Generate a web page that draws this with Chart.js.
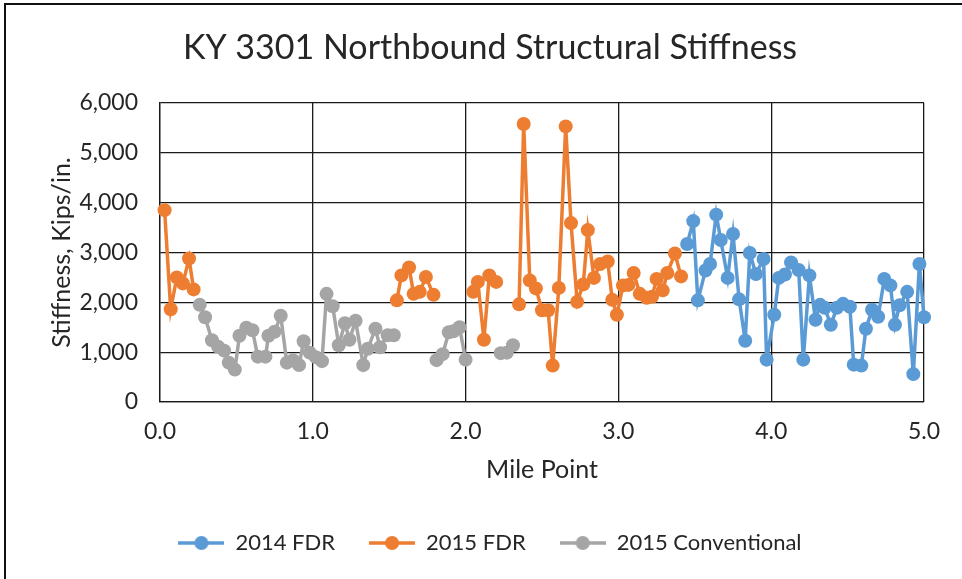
<!DOCTYPE html>
<html>
<head>
<meta charset="utf-8">
<script src="https://cdn.jsdelivr.net/npm/chart.js@4.4.1/dist/chart.umd.min.js"></script>
<style>
  html, body { margin: 0; padding: 0; background: #fff; }
  #wrap { position: relative; width: 962px; height: 579px; overflow: hidden; }
  #frame { position: absolute; left: 4px; top: 3px; width: 2000px; height: 2000px;
           border-top: 2px solid #111; border-left: 2px solid #111; pointer-events: none; }
  canvas { position: absolute; left: 0; top: 0; }
</style>
</head>
<body>
<div id="wrap">
  <canvas id="c" width="962" height="579"></canvas>
  <div id="frame"></div>
</div>
<script>
// ---- Data (mile point, stiffness in kips/in.; null = break in the line) ----
const seriesNames = ['2014 FDR', '2015 FDR', '2015 Conventional'];

const fdr2014Miles = [3.45, 3.49, 3.52, 3.57, 3.60, 3.64, 3.67, 3.715, 3.75, 3.79, 3.83, 3.86, 3.90, 3.95, 3.97,
  4.02, 4.05, 4.09, 4.13, 4.18, 4.21, 4.25, 4.29, 4.32, 4.35, 4.39, 4.43, 4.47, 4.515, 4.54, 4.59, 4.62, 4.66,
  4.70, 4.74, 4.78, 4.81, 4.84, 4.89, 4.93, 4.97, 5.0];
const fdr2014Stiff = [3170, 3630, 2040, 2640, 2770, 3760, 3250, 2490, 3370, 2060, 1230, 2990, 2570, 2870, 850,
  1750, 2490, 2560, 2800, 2650, 850, 2540, 1650, 1950, 1890, 1550, 1890, 1970, 1910, 750, 730, 1470, 1850,
  1710, 2470, 2340, 1550, 1940, 2210, 560, 2770, 1700];

const fdr2015Miles = [0.03, 0.07, 0.11, 0.15, 0.19, 0.22, null,
  1.55, 1.58, 1.63, 1.66, 1.70, 1.74, 1.79, null,
  2.05, 2.08, 2.12, 2.155, 2.20, null,
  2.35, 2.38, 2.42, 2.46, 2.50, 2.54, 2.57, 2.61, 2.655, 2.69, 2.73, 2.77, 2.80, 2.84, 2.88, 2.93, 2.96, 2.99,
  3.03, 3.065, 3.10, 3.14, 3.185, 3.22, 3.25, 3.29, 3.32, 3.37, 3.41];
const fdr2015Stiff = [3850, 1860, 2500, 2380, 2880, 2260, null,
  2040, 2540, 2700, 2170, 2210, 2510, 2150, null,
  2210, 2410, 1250, 2540, 2410, null,
  1960, 5580, 2440, 2280, 1840, 1840, 730, 2290, 5530, 3590, 2010, 2360, 3450, 2490, 2770, 2820, 2050, 1750,
  2340, 2350, 2590, 2170, 2090, 2110, 2470, 2240, 2590, 2980, 2520];

const conv2015Miles = [0.26, 0.295, 0.34, 0.38, 0.42, 0.45, 0.49, 0.52, 0.565, 0.605, 0.64, 0.69, 0.71, 0.75,
  0.79, 0.83, 0.87, 0.91, 0.94, 0.98, 1.02, 1.06, 1.09, 1.13, 1.17, 1.21, 1.24, 1.28, 1.33, 1.36, 1.41, 1.44,
  1.49, 1.53, null,
  1.81, 1.85, 1.89, 1.92, 1.96, 2.00, null,
  2.23, 2.27, 2.31];
const conv2015Stiff = [1950, 1700, 1240, 1110, 1030, 790, 650, 1330, 1490, 1440, 910, 910, 1330, 1410,
  1730, 790, 840, 740, 1220, 990, 900, 820, 2170, 1920, 1140, 1580, 1250, 1630, 740, 1070, 1470, 1100,
  1340, 1340, null,
  840, 960, 1400, 1420, 1500, 850, null,
  980, 990, 1140];

const xTicks = [0, 1, 2, 3, 4, 5];
const yTicks = [0, 1000, 2000, 3000, 4000, 5000, 6000];

// ---- Styling ----
const colors = ['#5B9BD5', '#ED7D31', '#A5A5A5'];
const FONT = 'Lato, "Open Sans", sans-serif';
const TXT = '#262626';

function pts(xs, ys) { return xs.map((x, i) => ({ x: x, y: ys[i] })); }

function legendIcon(color) {
  const c = document.createElement('canvas');
  c.width = 46; c.height = 16;
  const g = c.getContext('2d');
  g.strokeStyle = color; g.lineWidth = 3.5;
  g.beginPath(); g.moveTo(0, 8); g.lineTo(46, 8); g.stroke();
  g.fillStyle = color;
  g.beginPath(); g.arc(23, 8, 7, 0, Math.PI * 2); g.fill();
  return c;
}
const icons = colors.map(legendIcon);

const allData = [pts(fdr2014Miles, fdr2014Stiff), pts(fdr2015Miles, fdr2015Stiff), pts(conv2015Miles, conv2015Stiff)];

const datasets = seriesNames.map((name, i) => ({
  label: name,
  data: allData[i],
  borderColor: colors[i],
  backgroundColor: colors[i],
  borderWidth: 3.5,
  pointRadius: 7,
  pointHoverRadius: 7,
  pointBorderWidth: 0,
  pointBackgroundColor: colors[i],
  spanGaps: false,
  tension: 0,
  clip: false
}));

const LEG_FONT = 22, LEG_PAD = 34, PAD_BOTTOM = 15;
const legendH = LEG_FONT + LEG_PAD + 10;

new Chart(document.getElementById('c'), {
  type: 'line',
  data: { datasets: datasets },
  options: {
    responsive: false,
    animation: false,
    devicePixelRatio: 1,
    layout: { padding: { left: 56, right: 38, top: 4, bottom: PAD_BOTTOM } },
    plugins: {
      title: {
        display: true,
        text: 'KY 3301 Northbound Structural Stiffness',
        color: TXT,
        font: { family: FONT, size: 34, weight: 'normal' },
        padding: { top: 23.6, bottom: 34.6 }
      },
      legend: {
        position: 'bottom',
        labels: {
          color: TXT,
          font: { family: FONT, size: LEG_FONT },
          usePointStyle: true,
          pointStyleWidth: 46,
          padding: LEG_PAD,
          generateLabels: (chart) => seriesNames.map((n, i) => ({
            text: n, pointStyle: icons[i], fillStyle: colors[i], strokeStyle: colors[i],
            lineWidth: 0, hidden: false, datasetIndex: i, fontColor: TXT
          }))
        }
      },
      tooltip: { enabled: false }
    },
    scales: {
      x: {
        type: 'linear',
        min: 0, max: 5,
        afterBuildTicks: (s) => { s.ticks = xTicks.map(v => ({ value: v })); },
        afterFit: (s) => { s.height = 579 - PAD_BOTTOM - legendH - 402; },
        ticks: {
          color: TXT, font: { family: FONT, size: 23 }, padding: 16.2,
          callback: (v) => Number(v).toFixed(1)
        },
        grid: { color: '#1a1a1a', lineWidth: 1.3, drawTicks: false },
        border: { color: '#1a1a1a', width: 1.3 },
        title: {
          display: true, text: 'Mile Point', color: TXT,
          font: { family: FONT, size: 25 }, padding: { top: 0, bottom: 13 }
        }
      },
      y: {
        min: 0, max: 6000,
        afterBuildTicks: (s) => { s.ticks = yTicks.map(v => ({ value: v })); },
        afterFit: (s) => { s.width = 104; },
        ticks: {
          color: TXT, font: { family: FONT, size: 23 }, padding: 22,
          callback: (v) => Number(v).toLocaleString('en-US')
        },
        grid: { color: '#1a1a1a', lineWidth: 1.3, drawTicks: false },
        border: { color: '#1a1a1a', width: 1.3 },
        title: {
          display: true, text: 'Stiffness, Kips/in.', color: TXT,
          font: { family: FONT, size: 25 }, padding: { top: -9, bottom: 0 }
        }
      }
    }
  }
});
</script>
</body>
</html>
